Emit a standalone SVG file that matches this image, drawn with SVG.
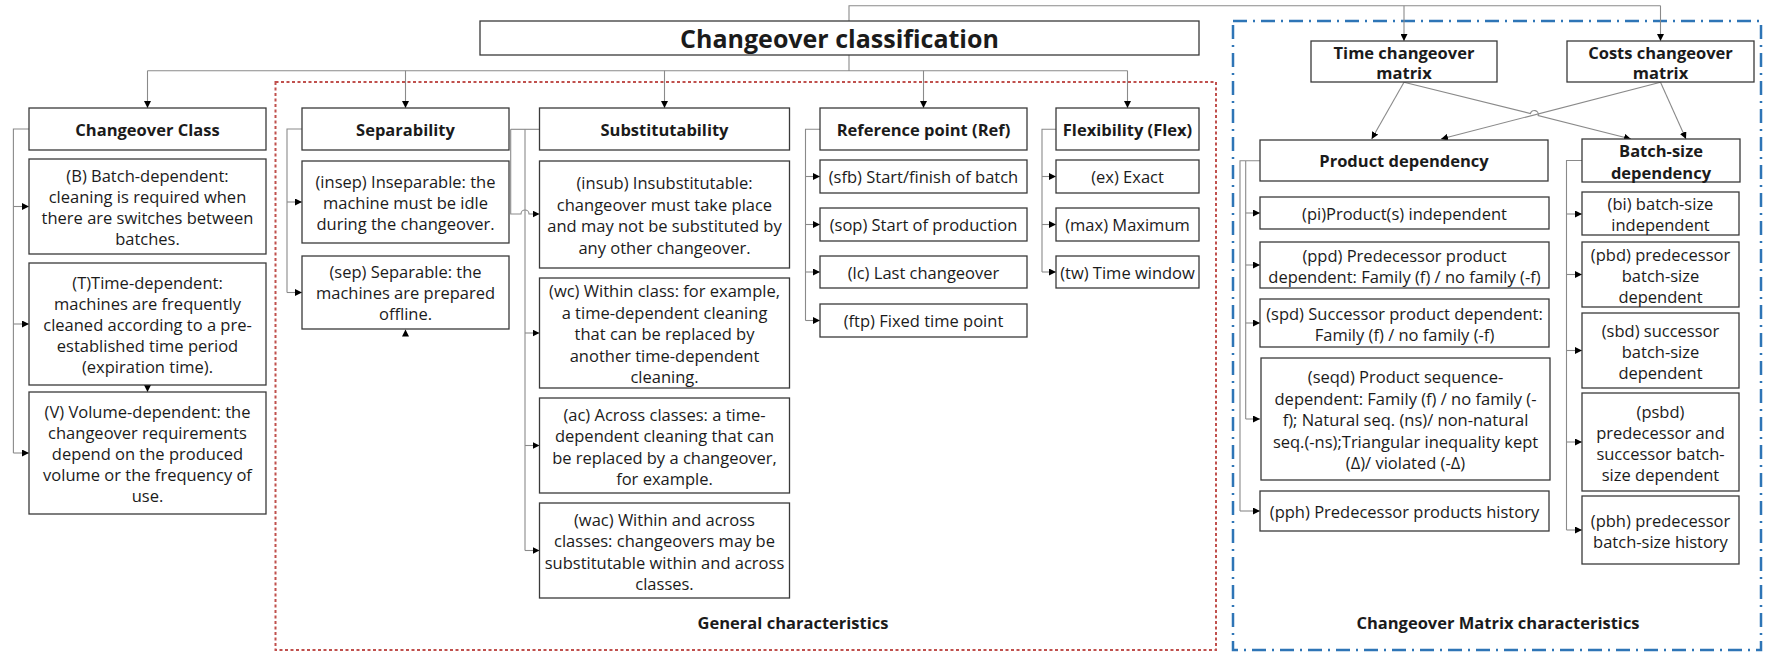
<svg xmlns="http://www.w3.org/2000/svg" width="1773" height="653" viewBox="0 0 1773 653">
<defs>
<marker id="ah" viewBox="0 0 8 8" refX="8" refY="4" markerWidth="7" markerHeight="7" markerUnits="userSpaceOnUse" orient="auto">
<path d="M0,0 L8,4 L0,8 z" fill="#000"/>
</marker>
<style>
.box{fill:#fff;stroke:#3a3a3a;stroke-width:1.3}
.t{font-family:"Open Sans","Liberation Sans",sans-serif;font-size:16.5px;fill:#1b1b1b;text-anchor:middle;dominant-baseline:central}
.b{font-weight:bold}
.title{font-size:25px}
.c{fill:none;stroke:#8a8a8a;stroke-width:1.1}
.ca{fill:none;stroke:#8a8a8a;stroke-width:1.1;marker-end:url(#ah)}
.red{fill:none;stroke:#c0504d;stroke-width:2;stroke-dasharray:3 2.5}
.blue{fill:none;stroke:#2e75b6;stroke-width:2.5;stroke-dasharray:14 6 2 6}
</style>
</defs>
<rect width="1773" height="653" fill="#fff"/>

<g id="frames">
<rect class="red" x="275.5" y="82" width="940.5" height="568"/>
<rect class="blue" x="1233" y="21" width="528" height="629"/>
<text class="t b" x="793" y="622">General characteristics</text>
<text class="t b" x="1498" y="622">Changeover Matrix characteristics</text>
</g>

<g id="connectors">
<!-- title to main headers -->
<path class="c" d="M849,55 V70.7 M147.5,70.7 H1127.5"/>
<path class="ca" d="M147.5,70.7 V108"/>
<path class="ca" d="M405.5,70.7 V108"/>
<path class="ca" d="M664.5,70.7 V108"/>
<path class="ca" d="M923.5,70.7 V108"/>
<path class="ca" d="M1127.5,70.7 V108"/>
<!-- title to matrices -->
<path class="c" d="M849,21 V5.7 H1660.5"/>
<path class="ca" d="M1404,5.7 V41"/>
<path class="ca" d="M1660.5,5.7 V41"/>
<!-- matrices to dependencies -->
<path class="ca" d="M1404,82.3 L1371.7,139"/>
<path class="ca" d="M1404,82.3 L1530.4,113.5 A4,4 0 0 1 1538.2,115.5 L1631,139"/>
<path class="ca" d="M1660.5,82.3 L1441,139"/>
<path class="ca" d="M1660.5,82.3 L1686,139"/>
<!-- Changeover class -->
<path class="c" d="M29,129 H13.4 V453"/>
<path class="ca" d="M13.4,206.5 H29"/>
<path class="ca" d="M13.4,324 H29"/>
<path class="ca" d="M13.4,453 H29"/>
<path class="ca" d="M147.5,385 V392"/>
<!-- Separability -->
<path class="c" d="M302,129 H287 V292.5"/>
<path class="ca" d="M287,202 H302"/>
<path class="ca" d="M287,292.5 H302"/>
<path class="ca" d="M405.5,336 V329.5"/>
<!-- Substitutability -->
<path class="c" d="M539.5,129.3 H510.7"/>
<path class="ca" d="M510.7,129.3 V214 H521 A4,4 0 0 1 529,214 H539.5"/>
<path class="c" d="M525,129.3 V550.5"/>
<path class="ca" d="M525,333 H539.5"/>
<path class="ca" d="M525,445.5 H539.5"/>
<path class="ca" d="M525,550.5 H539.5"/>
<!-- Reference point -->
<path class="c" d="M820,129.3 H805.5 V320.5"/>
<path class="ca" d="M805.5,176.5 H820"/>
<path class="ca" d="M805.5,224.5 H820"/>
<path class="ca" d="M805.5,272 H820"/>
<path class="ca" d="M805.5,320.5 H820"/>
<!-- Flexibility -->
<path class="c" d="M1056,129.3 H1042 V272"/>
<path class="ca" d="M1042,176.5 H1056"/>
<path class="ca" d="M1042,224.5 H1056"/>
<path class="ca" d="M1042,272 H1056"/>
<!-- Product dependency -->
<path class="c" d="M1260,160.7 H1240 V511 M1245.7,160.7 V419"/>
<path class="ca" d="M1245.7,213 H1260"/>
<path class="ca" d="M1245.7,265 H1260"/>
<path class="ca" d="M1245.7,323 H1260"/>
<path class="ca" d="M1245.7,419 H1260"/>
<path class="ca" d="M1240,511 H1260"/>
<!-- Batch-size dependency -->
<path class="c" d="M1582,160.5 H1566.5 V530"/>
<path class="ca" d="M1566.5,214 H1582"/>
<path class="ca" d="M1566.5,274.5 H1582"/>
<path class="ca" d="M1566.5,350.5 H1582"/>
<path class="ca" d="M1566.5,442 H1582"/>
<path class="ca" d="M1566.5,530 H1582"/>
</g>

<g id="title">
<rect class="box" x="480" y="21" width="719" height="34"/>
<text class="t b title" x="839.5" y="38">Changeover classification</text>
</g>

<g id="changeover-class">
<rect class="box" x="29" y="108" width="237" height="42"/>
<text class="t b" x="147.5" y="129">Changeover Class</text>
</g>
<g id="class-b">
<rect class="box" x="29" y="159" width="237" height="95"/>
<text class="t" x="147.5"><tspan x="147.5" y="175">(B) Batch-dependent:</tspan><tspan x="147.5" y="196">cleaning is required when</tspan><tspan x="147.5" y="217">there are switches between</tspan><tspan x="147.5" y="238">batches.</tspan></text>
</g>
<g id="class-t">
<rect class="box" x="29" y="263" width="237" height="122"/>
<text class="t" x="147.5"><tspan x="147.5" y="282">(T)Time-dependent:</tspan><tspan x="147.5" y="303">machines are frequently</tspan><tspan x="147.5" y="324">cleaned according to a pre-</tspan><tspan x="147.5" y="345">established time period</tspan><tspan x="147.5" y="366">(expiration time).</tspan></text>
</g>
<g id="class-v">
<rect class="box" x="29" y="392" width="237" height="122"/>
<text class="t" x="147.5"><tspan x="147.5" y="411">(V) Volume-dependent: the</tspan><tspan x="147.5" y="432">changeover requirements</tspan><tspan x="147.5" y="453">depend on the produced</tspan><tspan x="147.5" y="474">volume or the frequency of</tspan><tspan x="147.5" y="495">use.</tspan></text>
</g>

<g id="separability">
<rect class="box" x="302" y="108" width="207" height="42"/>
<text class="t b" x="405.5" y="129">Separability</text>
</g>
<g id="insep">
<rect class="box" x="302" y="161" width="207" height="82"/>
<text class="t"><tspan x="405.5" y="181">(insep) Inseparable: the</tspan><tspan x="405.5" y="202">machine must be idle</tspan><tspan x="405.5" y="223">during the changeover.</tspan></text>
</g>
<g id="sep">
<rect class="box" x="302" y="256" width="207" height="73"/>
<text class="t"><tspan x="405.5" y="271">(sep) Separable: the</tspan><tspan x="405.5" y="292">machines are prepared</tspan><tspan x="405.5" y="313">offline.</tspan></text>
</g>

<g id="substitutability">
<rect class="box" x="539.5" y="108" width="250" height="42"/>
<text class="t b" x="664.5" y="129">Substitutability</text>
</g>
<g id="insub">
<rect class="box" x="539.5" y="161" width="250" height="107"/>
<text class="t"><tspan x="664.5" y="182">(insub) Insubstitutable:</tspan><tspan x="664.5" y="203.5">changeover must take place</tspan><tspan x="664.5" y="225">and may not be substituted by</tspan><tspan x="664.5" y="246.5">any other changeover.</tspan></text>
</g>
<g id="wc">
<rect class="box" x="539.5" y="278" width="250" height="110"/>
<text class="t"><tspan x="664.5" y="290">(wc) Within class: for example,</tspan><tspan x="664.5" y="311.5">a time-dependent cleaning</tspan><tspan x="664.5" y="333">that can be replaced by</tspan><tspan x="664.5" y="354.5">another time-dependent</tspan><tspan x="664.5" y="376">cleaning.</tspan></text>
</g>
<g id="ac">
<rect class="box" x="539.5" y="398" width="250" height="95"/>
<text class="t"><tspan x="664.5" y="413.5">(ac) Across classes: a time-</tspan><tspan x="664.5" y="435">dependent cleaning that can</tspan><tspan x="664.5" y="456.5">be replaced by a changeover,</tspan><tspan x="664.5" y="478">for example.</tspan></text>
</g>
<g id="wac">
<rect class="box" x="539.5" y="503" width="250" height="95"/>
<text class="t"><tspan x="664.5" y="518.5">(wac) Within and across</tspan><tspan x="664.5" y="540">classes: changeovers may be</tspan><tspan x="664.5" y="561.5">substitutable within and across</tspan><tspan x="664.5" y="583">classes.</tspan></text>
</g>

<g id="reference-point">
<rect class="box" x="820" y="108" width="207" height="42"/>
<text class="t b" x="923.5" y="129">Reference point (Ref)</text>
</g>
<g id="sfb">
<rect class="box" x="820" y="160" width="207" height="33"/>
<text class="t" x="923.5" y="176.5">(sfb) Start/finish of batch</text>
</g>
<g id="sop">
<rect class="box" x="820" y="208" width="207" height="33"/>
<text class="t" x="923.5" y="224.5">(sop) Start of production</text>
</g>
<g id="lc">
<rect class="box" x="820" y="256" width="207" height="32"/>
<text class="t" x="923.5" y="272">(lc) Last changeover</text>
</g>
<g id="ftp">
<rect class="box" x="820" y="304" width="207" height="33"/>
<text class="t" x="923.5" y="320.5">(ftp) Fixed time point</text>
</g>

<g id="flexibility">
<rect class="box" x="1056" y="108" width="143" height="42"/>
<text class="t b" x="1127.5" y="129">Flexibility (Flex)</text>
</g>
<g id="ex">
<rect class="box" x="1056" y="160" width="143" height="33"/>
<text class="t" x="1127.5" y="176.5">(ex) Exact</text>
</g>
<g id="max">
<rect class="box" x="1056" y="208" width="143" height="33"/>
<text class="t" x="1127.5" y="224.5">(max) Maximum</text>
</g>
<g id="tw">
<rect class="box" x="1056" y="256" width="143" height="32"/>
<text class="t" x="1127.5" y="272">(tw) Time window</text>
</g>

<g id="time-matrix">
<rect class="box" x="1311" y="41" width="186" height="41"/>
<text class="t b"><tspan x="1404" y="51.7">Time changeover</tspan><tspan x="1404" y="71.7">matrix</tspan></text>
</g>
<g id="costs-matrix">
<rect class="box" x="1567" y="41" width="187" height="41"/>
<text class="t b"><tspan x="1660.5" y="51.7">Costs changeover</tspan><tspan x="1660.5" y="71.7">matrix</tspan></text>
</g>

<g id="product-dependency">
<rect class="box" x="1260" y="140" width="288" height="41"/>
<text class="t b" x="1404" y="160.5">Product dependency</text>
</g>
<g id="pi">
<rect class="box" x="1260" y="197" width="289" height="32"/>
<text class="t" x="1404.5" y="213">(pi)Product(s) independent</text>
</g>
<g id="ppd">
<rect class="box" x="1260" y="242" width="289" height="46"/>
<text class="t"><tspan x="1404.5" y="254.5">(ppd) Predecessor product</tspan><tspan x="1404.5" y="275.5">dependent: Family (f) / no family (-f)</tspan></text>
</g>
<g id="spd">
<rect class="box" x="1260" y="299" width="289" height="48"/>
<text class="t"><tspan x="1404.5" y="313">(spd) Successor product dependent:</tspan><tspan x="1404.5" y="334">Family (f) / no family (-f)</tspan></text>
</g>
<g id="seqd">
<rect class="box" x="1261" y="358" width="289" height="122"/>
<text class="t"><tspan x="1405.5" y="376">(seqd) Product sequence-</tspan><tspan x="1405.5" y="397.5">dependent: Family (f) / no family (-</tspan><tspan x="1405.5" y="419">f); Natural seq. (ns)/ non-natural</tspan><tspan x="1405.5" y="440.5">seq.(-ns);Triangular inequality kept</tspan><tspan x="1405.5" y="462">(Δ)/ violated (-Δ)</tspan></text>
</g>
<g id="pph">
<rect class="box" x="1260" y="491" width="289" height="40"/>
<text class="t" x="1404.5" y="511">(pph) Predecessor products history</text>
</g>

<g id="batch-size-dependency">
<rect class="box" x="1582" y="139" width="158" height="43"/>
<text class="t b"><tspan x="1661" y="150">Batch-size</tspan><tspan x="1661" y="171.5">dependency</tspan></text>
</g>
<g id="bi">
<rect class="box" x="1582" y="192" width="157" height="43"/>
<text class="t"><tspan x="1660.5" y="203">(bi) batch-size</tspan><tspan x="1660.5" y="223.5">independent</tspan></text>
</g>
<g id="pbd">
<rect class="box" x="1582" y="242" width="157" height="65"/>
<text class="t"><tspan x="1660.5" y="253.5">(pbd) predecessor</tspan><tspan x="1660.5" y="274.5">batch-size</tspan><tspan x="1660.5" y="295.5">dependent</tspan></text>
</g>
<g id="sbd">
<rect class="box" x="1582" y="313" width="157" height="75"/>
<text class="t"><tspan x="1660.5" y="329.5">(sbd) successor</tspan><tspan x="1660.5" y="350.5">batch-size</tspan><tspan x="1660.5" y="371.5">dependent</tspan></text>
</g>
<g id="psbd">
<rect class="box" x="1582" y="393" width="157" height="98"/>
<text class="t"><tspan x="1660.5" y="410.5">(psbd)</tspan><tspan x="1660.5" y="431.5">predecessor and</tspan><tspan x="1660.5" y="452.5">successor batch-</tspan><tspan x="1660.5" y="473.5">size dependent</tspan></text>
</g>
<g id="pbh">
<rect class="box" x="1582" y="496" width="157" height="68"/>
<text class="t"><tspan x="1660.5" y="519.5">(pbh) predecessor</tspan><tspan x="1660.5" y="540.5">batch-size history</tspan></text>
</g>
</svg>
